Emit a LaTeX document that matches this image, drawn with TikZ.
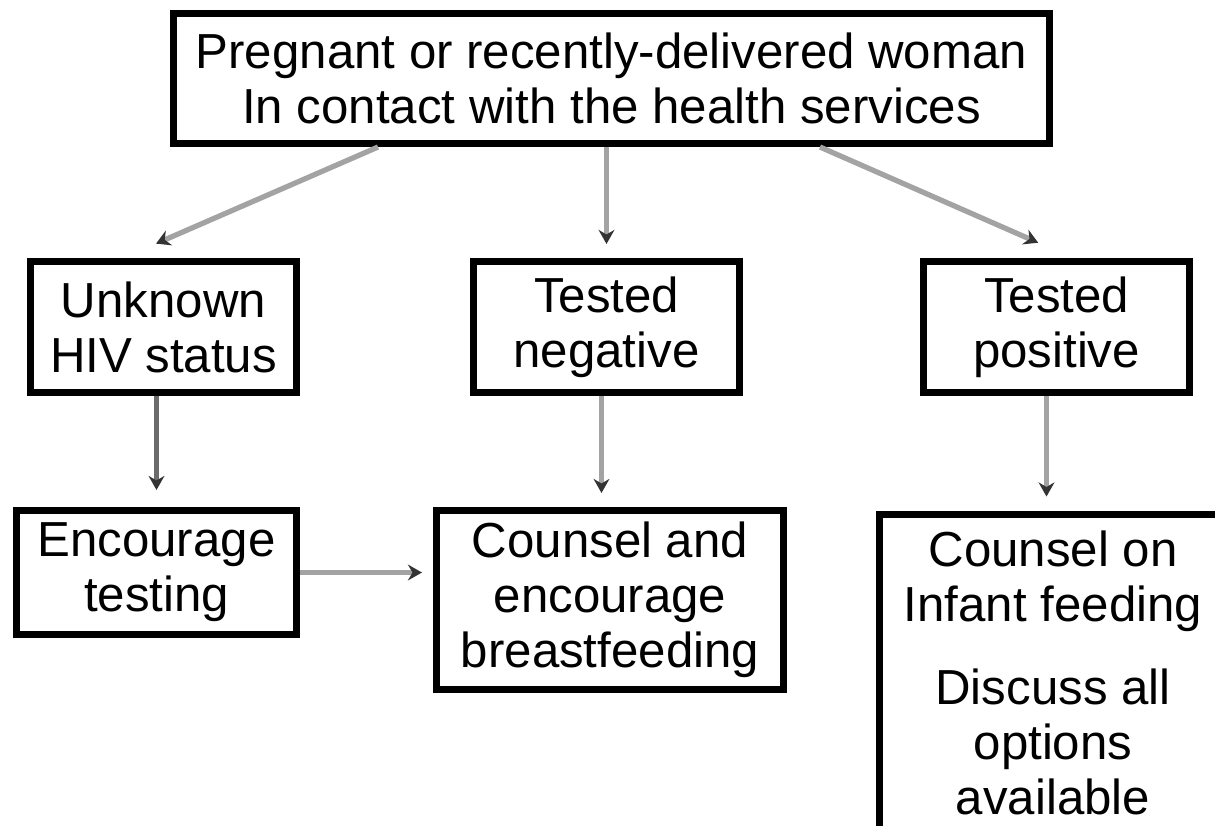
\documentclass[tikz,border=0pt]{standalone}
\usepackage{fontspec}
\setmainfont{Liberation Sans}
\usetikzlibrary{arrows.meta}

\tikzset{
	box/.style={draw, line width=2pt, align=center, inner sep=0pt,
		font=\fontsize{14}{15.6}\selectfont},
	flow/.style={draw=black!36, line width=1.5pt,
		-{Stealth[length=4pt,width=4.5pt,color=black!80]}, shorten >=0.14cm},
}

\begin{document}
\begin{tikzpicture}
		\useasboundingbox (0, 0) rectangle (12.15, -8.25);
		\clip (0, 0) rectangle (12.15, -8.25);

		% 上の箱を描画
		\node[box, minimum width=8.76cm, minimum height=1.30cm] (woman) at (6.115, -0.785)
			{Pregnant or recently-delivered woman\\In contact with the health services};

		% 真ん中の三つの箱を描画
		\node[box, minimum width=2.66cm, minimum height=1.31cm] (unknown) at (1.635, -3.27)
			{Unknown\\HIV status};
		\node[box, minimum width=2.66cm, minimum height=1.31cm] (negative) at (6.065, -3.27)
			{Tested\\negative};
		\node[box, minimum width=2.66cm, minimum height=1.31cm] (positive) at (10.565, -3.27)
			{Tested\\positive};

		% 下の箱を描画
		\node[box, minimum width=2.80cm, minimum height=1.24cm] (encourage) at (1.565, -5.725)
			{Encourage\\testing};
		\node[box, minimum width=3.47cm, minimum height=1.79cm] (counselbf) at (6.10, -6.00)
			{Counsel and\\encourage\\breastfeeding};
		\node[box, anchor=north, minimum width=3.47cm, inner ysep=0.17cm] (counselpos) at (10.53, -5.105)
			{Counsel on\\Infant feeding\\[8pt]Discuss all\\options\\available\\[10pt]};

		% 矢印を描画
		\draw[flow, shorten >=0.36cm] ([xshift=-2.335cm]woman.south) -- ([xshift=-0.405cm]unknown.north);
		\draw[flow] (woman.south -| negative.north) -- (negative.north);
		\draw[flow, shorten >=0.38cm] ([xshift=2.085cm]woman.south) -- ([xshift=0.165cm]positive.north);

		\draw[flow, draw=black!58, shorten >=0.17cm] (unknown.south -| encourage.north) -- (encourage.north);
		\draw[flow] ([xshift=-0.05cm]negative.south) -- ([xshift=-0.05cm]negative.south |- counselbf.north);
		\draw[flow] ([xshift=-0.1cm]positive.south) -- ([xshift=-0.1cm]positive.south |- counselpos.north);

		\draw[flow, shorten >=0.11cm] (encourage.east) -- (counselbf.west |- encourage.east);
	\end{tikzpicture}
\end{document}
